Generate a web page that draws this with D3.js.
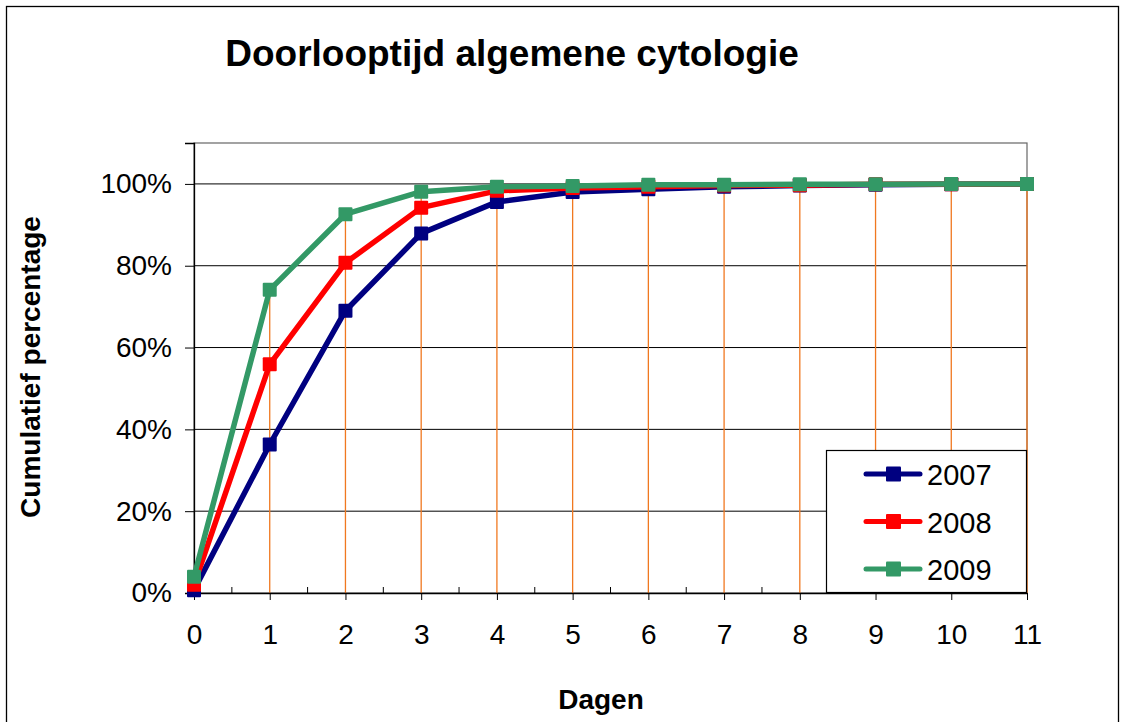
<!DOCTYPE html>
<html>
<head>
<meta charset="utf-8">
<script src="https://cdn.jsdelivr.net/npm/d3@7"></script>
<style>
  body { margin: 0; background: #fff; }
  text { font-family: Arial, "Liberation Sans", sans-serif; }
</style>
</head>
<body>
<script>
const days = [0, 1, 2, 3, 4, 5, 6, 7, 8, 9, 10, 11];
const v2007 = [0.007, 0.363, 0.690, 0.879, 0.956, 0.980, 0.987, 0.993, 0.996, 0.998, 0.999, 1.0];
const v2008 = [0.02, 0.559, 0.807, 0.942, 0.983, 0.990, 0.993, 0.996, 0.997, 0.999, 0.999, 1.0];
const v2009 = [0.04, 0.741, 0.926, 0.981, 0.993, 0.995, 0.998, 0.998, 0.999, 0.999, 1.0, 1.0];
const yTicks = [0, 0.2, 0.4, 0.6, 0.8, 1.0];

const series = [
  { name: "2007", values: v2007, color: "#000080" },
  { name: "2008", values: v2008, color: "#ff0000" },
  { name: "2009", values: v2009, color: "#339966" }
];

const width = 1125, height = 722;
const plot = { left: 194, right: 1027, top: 143, bottom: 593 };

const svg = d3.select("body").append("svg")
  .attr("width", width)
  .attr("height", height);

// outer frame
svg.append("rect")
  .attr("x", 6.5).attr("y", 6.5)
  .attr("width", 1112).attr("height", 730)
  .attr("fill", "#fff").attr("stroke", "#000").attr("stroke-width", 1.3);

const x = d3.scaleLinear().domain([0, 11]).range([plot.left, plot.right]);
const y = d3.scaleLinear().domain([0, 1.1]).range([plot.bottom, plot.top]);

// plot area border
svg.append("rect")
  .attr("x", plot.left).attr("y", plot.top)
  .attr("width", plot.right - plot.left).attr("height", plot.bottom - plot.top)
  .attr("fill", "#fff").attr("stroke", "#666").attr("stroke-width", 1.2);

// horizontal gridlines
svg.append("g").selectAll("line")
  .data(yTicks.slice(1))
  .join("line")
  .attr("x1", plot.left).attr("x2", plot.right)
  .attr("y1", d => y(d)).attr("y2", d => y(d))
  .attr("stroke", "#000").attr("stroke-width", 1);

// drop lines (orange) from highest point down to axis
svg.append("g").selectAll("line")
  .data(days.slice(1))
  .join("line")
  .attr("x1", d => x(d)).attr("x2", d => x(d))
  .attr("y1", y(0))
  .attr("y2", d => y(d3.max(series, s => s.values[d])))
  .attr("stroke", "#f07820").attr("stroke-width", 1.3);

// y axis
const yAxis = d3.axisLeft(y).tickValues(yTicks).tickSize(9)
  .tickFormat(d => Math.round(d * 100) + "%");
const gy = svg.append("g").attr("transform", `translate(${plot.left},0)`).call(yAxis);
gy.select(".domain").attr("stroke", "#000").attr("stroke-width", 1.3);
gy.selectAll(".tick line").attr("stroke", "#000");
gy.selectAll(".tick text").attr("font-size", 28).attr("fill", "#000")
  .attr("font-family", "Arial, 'Liberation Sans', sans-serif").attr("x", -22);

// x axis
const xAxis = d3.axisBottom(x).tickValues(days).tickSize(7).tickSizeOuter(0);
const gx = svg.append("g").attr("transform", `translate(0,${plot.bottom})`).call(xAxis);
gx.select(".domain").attr("stroke", "#000").attr("stroke-width", 1.3);
gx.selectAll(".tick line").attr("stroke", "#000");
gx.selectAll(".tick text").attr("font-size", 28).attr("fill", "#000")
  .attr("font-family", "Arial, 'Liberation Sans', sans-serif")
  .attr("y", 51).attr("dy", 0);

// minor ticks pointing inward
svg.append("g").selectAll("line")
  .data(days.slice(0, -1).map(d => d + 0.5))
  .join("line")
  .attr("x1", d => x(d)).attr("x2", d => x(d))
  .attr("y1", plot.bottom).attr("y2", plot.bottom - 6)
  .attr("stroke", "#000");

// series
const line = d3.line().x((d, i) => x(days[i])).y(d => y(d));
series.forEach(s => {
  const g = svg.append("g");
  g.append("path")
    .attr("d", line(s.values))
    .attr("fill", "none")
    .attr("stroke", s.color)
    .attr("stroke-width", 5.5)
    .attr("stroke-linejoin", "round");
  g.selectAll("rect")
    .data(s.values)
    .join("rect")
    .attr("x", (d, i) => x(days[i]) - 7)
    .attr("y", d => y(d) - 7)
    .attr("width", 14).attr("height", 14)
    .attr("rx", 1)
    .attr("fill", s.color);
});

// title
svg.append("text")
  .attr("x", 512).attr("y", 66)
  .attr("text-anchor", "middle")
  .attr("font-size", 37).attr("font-weight", "bold")
  .text("Doorlooptijd algemene cytologie");

// axis titles
svg.append("text")
  .attr("transform", `translate(40,367) rotate(-90)`)
  .attr("text-anchor", "middle")
  .attr("font-size", 28).attr("font-weight", "bold")
  .text("Cumulatief percentage");

svg.append("text")
  .attr("x", 601).attr("y", 709)
  .attr("text-anchor", "middle")
  .attr("font-size", 28).attr("font-weight", "bold")
  .text("Dagen");

// legend
const legend = svg.append("g");
legend.append("rect")
  .attr("x", 826.5).attr("y", 450.5)
  .attr("width", 200).attr("height", 142)
  .attr("fill", "#fff").attr("stroke", "#000").attr("stroke-width", 1.2);
series.forEach((s, i) => {
  const ly = 474 + i * 47.5;
  legend.append("line")
    .attr("x1", 866).attr("x2", 920)
    .attr("y1", ly).attr("y2", ly)
    .attr("stroke", s.color).attr("stroke-width", 5).attr("stroke-linecap", "round");
  legend.append("rect")
    .attr("x", 886).attr("y", ly - 7.5)
    .attr("width", 15).attr("height", 15).attr("rx", 1)
    .attr("fill", s.color);
  legend.append("text")
    .attr("x", 927).attr("y", ly + 11)
    .attr("font-size", 29)
    .text(s.name);
});
</script>
</body>
</html>
